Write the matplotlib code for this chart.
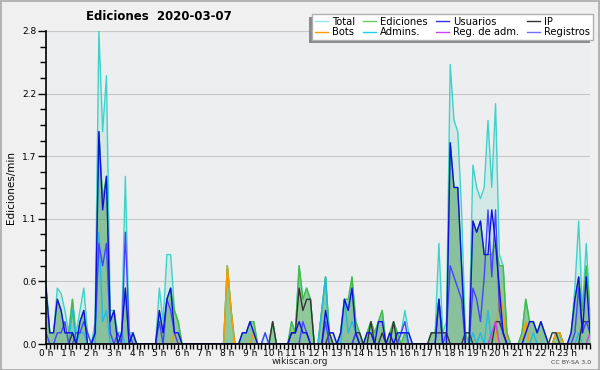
import numpy as np
import matplotlib
matplotlib.use("Agg")
import matplotlib.pyplot as plt
from matplotlib.lines import Line2D
from matplotlib.patches import Rectangle
from matplotlib.ticker import MultipleLocator, FixedLocator

# edits per minute, 10-minute buckets (one row = one hour), last value = 24:00
total = [
    0.55, 0.1, 0.1, 0.5, 0.45, 0.3,
    0.1, 0.4, 0.1, 0.3, 0.5, 0.1,
    0.0, 0.2, 2.8, 1.9, 2.4, 0.3,
    0.3, 0.1, 0.1, 1.5, 0.1, 0.1,
    0.0, 0.0, 0.0, 0.0, 0.0, 0.0,
    0.5, 0.2, 0.8, 0.8, 0.3, 0.2,
    0.0, 0.0, 0.0, 0.0, 0.0, 0.0,
    0.0, 0.0, 0.0, 0.0, 0.0, 0.0,
    0.7, 0.3, 0.0, 0.0, 0.1, 0.1,
    0.2, 0.2, 0.0, 0.0, 0.1, 0.0,
    0.2, 0.0, 0.0, 0.0, 0.0, 0.2,
    0.1, 0.7, 0.4, 0.5, 0.4, 0.0,
    0.0, 0.3, 0.6, 0.1, 0.1, 0.0,
    0.1, 0.4, 0.3, 0.6, 0.2, 0.1,
    0.0, 0.1, 0.2, 0.1, 0.2, 0.3,
    0.0, 0.1, 0.2, 0.1, 0.1, 0.3,
    0.1, 0.0, 0.0, 0.0, 0.0, 0.0,
    0.1, 0.1, 0.9, 0.1, 0.2, 2.5,
    2.0, 1.9, 1.2, 0.1, 0.1, 1.6,
    1.4, 1.3, 1.4, 2.0, 1.4, 2.15,
    0.8, 0.7, 0.1, 0.0, 0.0, 0.0,
    0.1, 0.4, 0.2, 0.2, 0.1, 0.2,
    0.1, 0.0, 0.0, 0.1, 0.1, 0.0,
    0.0, 0.1, 0.5, 1.1, 0.3, 0.9,
    0.3,
]
ediciones = [
    0.5, 0.1, 0.1, 0.4, 0.3, 0.1,
    0.1, 0.4, 0.0, 0.2, 0.3, 0.0,
    0.0, 0.1, 1.9, 1.3, 1.5, 0.2,
    0.3, 0.0, 0.1, 0.5, 0.0, 0.1,
    0.0, 0.0, 0.0, 0.0, 0.0, 0.0,
    0.3, 0.1, 0.4, 0.5, 0.3, 0.2,
    0.0, 0.0, 0.0, 0.0, 0.0, 0.0,
    0.0, 0.0, 0.0, 0.0, 0.0, 0.0,
    0.7, 0.3, 0.0, 0.0, 0.1, 0.1,
    0.2, 0.2, 0.0, 0.0, 0.0, 0.0,
    0.2, 0.0, 0.0, 0.0, 0.0, 0.2,
    0.1, 0.7, 0.4, 0.5, 0.4, 0.0,
    0.0, 0.3, 0.6, 0.1, 0.0, 0.0,
    0.1, 0.4, 0.4, 0.6, 0.2, 0.1,
    0.0, 0.1, 0.2, 0.1, 0.2, 0.3,
    0.0, 0.1, 0.2, 0.1, 0.0, 0.1,
    0.0, 0.0, 0.0, 0.0, 0.0, 0.0,
    0.1, 0.1, 0.4, 0.1, 0.1, 1.8,
    1.4, 1.4, 0.7, 0.1, 0.0, 1.1,
    1.0, 1.1, 0.8, 0.8, 0.8, 0.9,
    0.7, 0.7, 0.1, 0.0, 0.0, 0.0,
    0.1, 0.4, 0.2, 0.2, 0.1, 0.2,
    0.1, 0.0, 0.0, 0.1, 0.1, 0.0,
    0.0, 0.1, 0.4, 0.6, 0.3, 0.7,
    0.3,
]
usuarios = [
    0.5, 0.1, 0.1, 0.4, 0.3, 0.1,
    0.1, 0.1, 0.0, 0.2, 0.3, 0.0,
    0.0, 0.1, 1.9, 1.2, 1.5, 0.2,
    0.3, 0.0, 0.1, 0.5, 0.0, 0.1,
    0.0, 0.0, 0.0, 0.0, 0.0, 0.0,
    0.3, 0.1, 0.4, 0.5, 0.1, 0.1,
    0.0, 0.0, 0.0, 0.0, 0.0, 0.0,
    0.0, 0.0, 0.0, 0.0, 0.0, 0.0,
    0.0, 0.0, 0.0, 0.0, 0.1, 0.1,
    0.2, 0.1, 0.0, 0.0, 0.0, 0.0,
    0.0, 0.0, 0.0, 0.0, 0.0, 0.1,
    0.1, 0.2, 0.1, 0.1, 0.0, 0.0,
    0.0, 0.0, 0.3, 0.1, 0.1, 0.0,
    0.1, 0.4, 0.3, 0.5, 0.1, 0.0,
    0.0, 0.1, 0.1, 0.0, 0.2, 0.2,
    0.0, 0.1, 0.0, 0.1, 0.1, 0.1,
    0.1, 0.0, 0.0, 0.0, 0.0, 0.0,
    0.0, 0.0, 0.4, 0.0, 0.0, 1.8,
    1.4, 1.4, 0.7, 0.0, 0.0, 1.1,
    1.0, 1.1, 0.8, 0.8, 1.2, 0.9,
    0.5, 0.1, 0.0, 0.0, 0.0, 0.0,
    0.0, 0.1, 0.2, 0.2, 0.1, 0.2,
    0.1, 0.0, 0.0, 0.0, 0.0, 0.0,
    0.0, 0.1, 0.4, 0.6, 0.1, 0.6,
    0.1,
]
registros = [
    0.1, 0.0, 0.0, 0.1, 0.1, 0.2,
    0.0, 0.0, 0.1, 0.1, 0.2, 0.1,
    0.0, 0.1, 0.9, 0.7, 0.9, 0.1,
    0.0, 0.1, 0.0, 1.0, 0.1, 0.0,
    0.0, 0.0, 0.0, 0.0, 0.0, 0.0,
    0.2, 0.0, 0.4, 0.3, 0.1, 0.0,
    0.0, 0.0, 0.0, 0.0, 0.0, 0.0,
    0.0, 0.0, 0.0, 0.0, 0.0, 0.0,
    0.0, 0.0, 0.0, 0.0, 0.0, 0.0,
    0.0, 0.0, 0.0, 0.0, 0.1, 0.0,
    0.0, 0.0, 0.0, 0.0, 0.0, 0.0,
    0.0, 0.0, 0.2, 0.1, 0.0, 0.0,
    0.0, 0.0, 0.2, 0.0, 0.0, 0.0,
    0.0, 0.0, 0.0, 0.0, 0.1, 0.0,
    0.0, 0.0, 0.0, 0.0, 0.0, 0.0,
    0.0, 0.0, 0.0, 0.0, 0.1, 0.2,
    0.0, 0.0, 0.0, 0.0, 0.0, 0.0,
    0.0, 0.0, 0.4, 0.0, 0.1, 0.7,
    0.6, 0.5, 0.4, 0.0, 0.0, 0.5,
    0.4, 0.2, 0.6, 1.2, 0.6, 1.2,
    0.3, 0.1, 0.0, 0.0, 0.0, 0.0,
    0.0, 0.0, 0.0, 0.0, 0.0, 0.0,
    0.0, 0.0, 0.0, 0.0, 0.0, 0.0,
    0.0, 0.0, 0.1, 0.5, 0.1, 0.2,
    0.1,
]
ip = [
    0.0, 0.0, 0.0, 0.0, 0.0, 0.0,
    0.0, 0.1, 0.0, 0.0, 0.0, 0.0,
    0.0, 0.0, 0.0, 0.0, 0.0, 0.0,
    0.0, 0.0, 0.0, 0.0, 0.0, 0.0,
    0.0, 0.0, 0.0, 0.0, 0.0, 0.0,
    0.0, 0.0, 0.0, 0.0, 0.0, 0.0,
    0.0, 0.0, 0.0, 0.0, 0.0, 0.0,
    0.0, 0.0, 0.0, 0.0, 0.0, 0.0,
    0.0, 0.0, 0.0, 0.0, 0.0, 0.0,
    0.0, 0.0, 0.0, 0.0, 0.0, 0.0,
    0.2, 0.0, 0.0, 0.0, 0.0, 0.1,
    0.1, 0.5, 0.3, 0.4, 0.4, 0.0,
    0.0, 0.0, 0.0, 0.1, 0.0, 0.0,
    0.0, 0.0, 0.0, 0.0, 0.1, 0.1,
    0.0, 0.0, 0.2, 0.0, 0.0, 0.1,
    0.0, 0.0, 0.2, 0.0, 0.0, 0.0,
    0.0, 0.0, 0.0, 0.0, 0.0, 0.0,
    0.1, 0.1, 0.1, 0.1, 0.1, 0.0,
    0.0, 0.0, 0.0, 0.1, 0.1, 0.0,
    0.0, 0.0, 0.0, 0.0, 0.0, 0.2,
    0.2, 0.1, 0.0, 0.0, 0.0, 0.0,
    0.0, 0.0, 0.0, 0.0, 0.0, 0.0,
    0.0, 0.0, 0.1, 0.1, 0.0, 0.0,
    0.0, 0.0, 0.0, 0.0, 0.2, 0.2,
    0.2,
]
bots = [0.0] * 145
for i, v in [(34, 0.1), (48, 0.7), (49, 0.3), (55, 0.1), (120, 0.5), (121, 0.3),
             (127, 0.2), (135, 0.1), (136, 0.1)]:
    bots[i] = v
admins = [0.0] * 145
for i, v in [(7, 0.3), (9, 0.1), (10, 0.1), (14, 1.0), (15, 0.2), (16, 0.3), (20, 0.1),
             (73, 0.3), (74, 0.6), (79, 0.4), (80, 0.1), (81, 0.2), (82, 0.1),
             (94, 0.1), (95, 0.1), (113, 0.1), (115, 0.1), (117, 0.3), (129, 0.1), (141, 0.1)]:
    admins[i] = v
reg_adm = [0.0] * 145
for i, v in [(118, 0.1), (119, 0.2), (144, 0.1)]:
    reg_adm[i] = v

hour_labels = [f"{h} h" for h in range(24)]
y_ticks = [0.0, 0.56, 1.12, 1.68, 2.24, 2.8]

x = np.arange(len(total)) / 6.0

fig = plt.figure(figsize=(6, 3.7), dpi=100, facecolor="#f0f0f0")
ax = fig.add_axes([46 / 600, 26 / 370, 544 / 600, 313 / 370])
ax.set_facecolor("#edeef0")

ax.fill_between(x, total, color="#40d0c0", alpha=0.15, lw=0)
ax.fill_between(x, ediciones, color="#40a040", alpha=0.45, lw=0)
ax.fill_between(x, usuarios, color="#2060b0", alpha=0.06, lw=0)

lw = 1.0
ax.plot(x, total, color="#3fd3c8", lw=lw)
ax.plot(x, ediciones, color="#44bb44", lw=lw)
ax.plot(x, bots, color="#ff9900", lw=lw)
ax.plot(x, admins, color="#22bbe0", lw=lw)
ax.plot(x, ip, color="#333333", lw=lw)
ax.plot(x, reg_adm, color="#cc44ee", lw=lw)
ax.plot(x, registros, color="#4444ff", lw=lw)
ax.plot(x, usuarios, color="#1010dd", lw=lw)

ax.set_xlim(0, 24)
ax.set_ylim(0, 2.8)
ax.xaxis.set_major_locator(FixedLocator(range(24)))
ax.set_xticklabels(hour_labels)
ax.xaxis.set_minor_locator(MultipleLocator(1 / 6))
ax.yaxis.set_major_locator(FixedLocator(y_ticks))
ax.set_yticklabels([f"{v:.1f}" for v in y_ticks])
ax.yaxis.set_minor_locator(MultipleLocator(0.14))
ax.tick_params(axis="both", which="both", direction="out", width=1, color="black",
               labelsize=6.5)
ax.tick_params(axis="x", which="both", length=3.5, pad=0)
ax.tick_params(axis="y", which="major", length=6, pad=1)
ax.tick_params(axis="y", which="minor", length=4)
ax.grid(axis="y", which="major", color="#c8c8c8", lw=0.8)
ax.set_axisbelow(True)
for side in ("top", "right"):
    ax.spines[side].set_visible(False)
ax.spines["left"].set_linewidth(1.2)
ax.spines["bottom"].set_linewidth(1.2)

ax.set_ylabel("Ediciones/min", fontsize=7.5, labelpad=4)
fig.text(0.265, 0.955, "Ediciones  2020-03-07", fontsize=8.5, fontweight="bold",
         ha="center", va="center")
fig.text(0.5, 0.022, "wikiscan.org", fontsize=6.5, ha="center", va="center", color="#222222")
fig.text(0.985, 0.02, "CC BY-SA 3.0", fontsize=4.5, ha="right", va="center", color="#444444")

handles = [
    Line2D([], [], color="#90e6e6", lw=1), Line2D([], [], color="#ff9900", lw=1),
    Line2D([], [], color="#66cc66", lw=1), Line2D([], [], color="#22ccee", lw=1),
    Line2D([], [], color="#3333ee", lw=1), Line2D([], [], color="#cc44ee", lw=1),
    Line2D([], [], color="#333333", lw=1), Line2D([], [], color="#7070ff", lw=1),
]
labels = ["Total", "Bots", "Ediciones", "Admins.", "Usuarios", "Reg. de adm.", "IP", "Registros"]
leg = fig.legend(handles, labels, ncol=4, loc="upper right", bbox_to_anchor=(0.997, 0.977),
                 fontsize=7.2, handlelength=1.3, handletextpad=0.4, columnspacing=0.8,
                 labelspacing=0.05, borderpad=0.3, fancybox=False, framealpha=1,
                 edgecolor="#b0b0b0", facecolor="white")
leg.set_zorder(5)

fig.canvas.draw()
bb = leg.get_window_extent().transformed(fig.transFigure.inverted())
fig.patches.append(Rectangle((bb.x0 - 3 / 600, bb.y0 - 3 / 370), bb.width, bb.height,
                             transform=fig.transFigure, facecolor="#8a8a8a",
                             edgecolor="none", zorder=4))
fig.patches.append(Rectangle((0.001, 0.001), 0.997, 0.996, transform=fig.transFigure,
                             facecolor="none", edgecolor="#a8a8a8", lw=1.2, zorder=10))

fig.savefig("out.png", dpi=100, facecolor=fig.get_facecolor())
